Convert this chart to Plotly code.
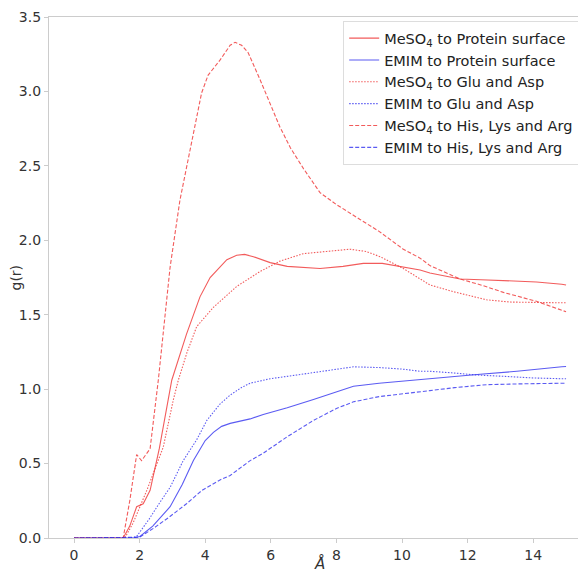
import plotly.graph_objects as go

# g(r) curves
x_meso4_surface = [0, 1.5, 1.7, 1.91, 2.11, 2.32, 2.6, 2.98, 3.43, 3.84, 4.15, 4.4, 4.66, 4.96, 5.2, 5.47, 5.98, 6.5, 7.0, 7.5, 8.2, 8.82, 9.4, 10.04, 10.55, 10.85, 11.3, 11.77, 12.4, 13.09, 14.1, 14.87, 15.0]
y_meso4_surface = [0, 0, 0.08, 0.21, 0.23, 0.32, 0.6, 1.06, 1.37, 1.62, 1.75, 1.81, 1.87, 1.9, 1.905, 1.89, 1.85, 1.825, 1.815, 1.81, 1.825, 1.845, 1.845, 1.82, 1.8, 1.78, 1.76, 1.74, 1.735, 1.73, 1.72, 1.705, 1.70]

x_emim_surface = [0, 1.8, 2.01, 2.4, 2.93, 3.3, 3.64, 4.0, 4.25, 4.5, 4.76, 5.37, 5.77, 6.5, 7.3, 8.0, 8.52, 9.3, 10.0, 10.85, 11.6, 12.38, 13.5, 14.87, 15.0]
y_emim_surface = [0, 0, 0.01, 0.08, 0.21, 0.36, 0.52, 0.655, 0.71, 0.75, 0.77, 0.80, 0.83, 0.875, 0.93, 0.98, 1.02, 1.04, 1.055, 1.07, 1.085, 1.10, 1.12, 1.15, 1.152]

x_meso4_glu = [0, 1.55, 1.8, 2.22, 2.72, 3.03, 3.18, 3.45, 3.74, 4.25, 4.96, 5.67, 6.28, 6.99, 7.7, 8.41, 8.9, 9.33, 10.04, 10.55, 10.85, 11.56, 12.58, 13.3, 14.1, 14.87, 15.0]
y_meso4_glu = [0, 0, 0.1, 0.32, 0.61, 0.93, 1.06, 1.25, 1.42, 1.55, 1.69, 1.79, 1.86, 1.91, 1.925, 1.94, 1.925, 1.89, 1.81, 1.74, 1.70, 1.655, 1.60, 1.585, 1.58, 1.58, 1.58]

x_emim_glu = [0, 1.75, 1.91, 2.3, 2.62, 2.93, 3.33, 3.74, 4.05, 4.45, 4.76, 5.1, 5.37, 5.98, 6.79, 7.6, 8.52, 9.3, 10.0, 10.55, 10.85, 11.5, 12.27, 13.2, 14.0, 14.87, 15.0]
y_emim_glu = [0, 0, 0.01, 0.13, 0.24, 0.34, 0.52, 0.66, 0.79, 0.90, 0.96, 1.01, 1.04, 1.07, 1.095, 1.12, 1.15, 1.145, 1.135, 1.12, 1.12, 1.11, 1.095, 1.085, 1.075, 1.07, 1.07]

x_meso4_his = [0, 1.5, 1.7, 1.91, 2.06, 2.32, 2.57, 2.93, 3.23, 3.54, 3.74, 3.89, 4.09, 4.45, 4.76, 4.91, 5.11, 5.31, 5.67, 6.28, 6.6, 7.0, 7.5, 8.0, 8.72, 9.3, 10.04, 10.55, 10.85, 11.77, 12.4, 13.09, 14.1, 14.87, 15.0]
y_meso4_his = [0, 0, 0.25, 0.56, 0.52, 0.6, 1.06, 1.82, 2.27, 2.61, 2.85, 2.99, 3.11, 3.21, 3.31, 3.33, 3.31, 3.26, 3.08, 2.76, 2.62, 2.48, 2.32, 2.24, 2.14, 2.06, 1.94, 1.88, 1.83, 1.74, 1.70, 1.65, 1.59, 1.53, 1.52]

x_emim_his = [0, 1.85, 2.0, 2.42, 2.9, 3.43, 3.9, 4.45, 4.76, 5.37, 5.77, 6.5, 7.3, 8.0, 8.52, 9.3, 10.0, 10.85, 11.6, 12.58, 13.5, 14.87, 15.0]
y_emim_his = [0, 0, 0.005, 0.065, 0.14, 0.23, 0.32, 0.39, 0.42, 0.52, 0.57, 0.68, 0.79, 0.87, 0.915, 0.95, 0.97, 0.99, 1.01, 1.03, 1.035, 1.04, 1.04]

red = 'rgba(238, 45, 45, 0.78)'
blue = 'rgba(45, 45, 238, 0.78)'
dot = '1.5px,1.5px'
dash = '4px,2px'

series = [
    ('MeSO<sub>4</sub> to Protein surface', x_meso4_surface, y_meso4_surface, red, 'solid'),
    ('EMIM to Protein surface', x_emim_surface, y_emim_surface, blue, 'solid'),
    ('MeSO<sub>4</sub> to Glu and Asp', x_meso4_glu, y_meso4_glu, red, dot),
    ('EMIM to Glu and Asp', x_emim_glu, y_emim_glu, blue, dot),
    ('MeSO<sub>4</sub> to His, Lys and Arg', x_meso4_his, y_meso4_his, red, dash),
    ('EMIM to His, Lys and Arg', x_emim_his, y_emim_his, blue, dash),
]

fig = go.Figure()
for name, xs, ys, color, style in series:
    fig.add_trace(go.Scatter(x=xs, y=ys, name=name, mode='lines',
                             line={'color': color, 'width': 1.1, 'dash': style}))

axis_style = dict(showgrid=False, zeroline=False, showline=True, linecolor='#cccccc', linewidth=1.2,
                  ticks='outside', ticklen=4, tickcolor='#cccccc', automargin=False,
                  tickfont={'size': 14, 'color': '#333333'})

fig.update_xaxes(range=[-0.762, 15.73], tickvals=[0, 2, 4, 6, 8, 10, 12, 14], mirror=True, **axis_style)
fig.update_yaxes(range=[0, 3.5], tickvals=[0, 0.5, 1, 1.5, 2, 2.5, 3, 3.5], tickformat='.1f', **axis_style)

# axis titles and the cut-off title at the top
fig.add_annotation(text='<i>Å</i>', xref='paper', yref='paper', x=0.5, y=0, yanchor='top', yshift=-14,
                   showarrow=False, font={'size': 15, 'color': '#333333'})
fig.add_annotation(text='g(r)', xref='paper', yref='paper', x=0, y=0.5, xanchor='right', xshift=-24,
                   textangle=-90, showarrow=False, font={'size': 14, 'color': '#333333'})
fig.add_annotation(text='<i>Å</i>', xref='paper', yref='paper', x=0.5, y=1, yanchor='bottom', yshift=6,
                   showarrow=False, font={'size': 15, 'color': '#333333'})

fig.update_layout(
    width=586, height=574,
    margin=dict(l=41, r=4, t=9, b=44),
    paper_bgcolor='white', plot_bgcolor='white',
    font={'family': 'DejaVu Sans', 'color': '#333333'},
    legend=dict(x=0.98, y=0.992, xanchor='right', yanchor='top', bgcolor='white',
                bordercolor='#dddddd', borderwidth=1, font={'size': 14.5, 'color': '#222222'},
                itemwidth=30, tracegroupgap=0),
    showlegend=True,
)

fig.write_html("out.html")
